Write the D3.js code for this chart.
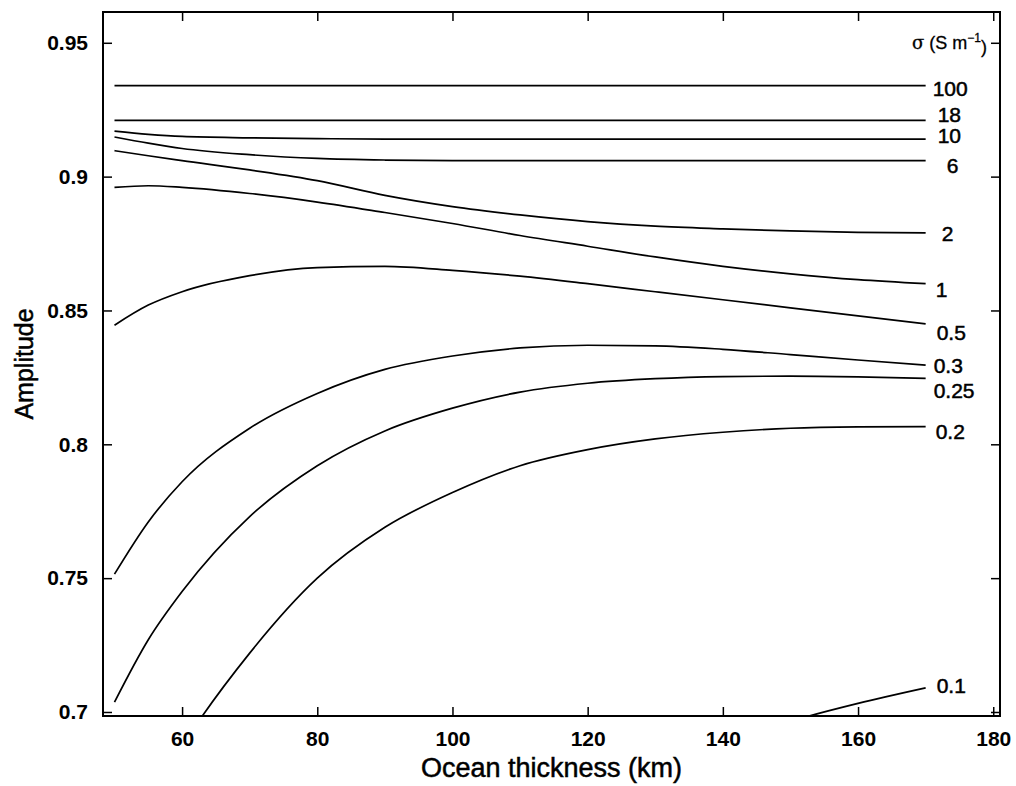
<!DOCTYPE html>
<html>
<head>
<meta charset="utf-8">
<script src="https://cdn.jsdelivr.net/npm/d3@7"></script>
<style>
  html, body { margin: 0; padding: 0; background: #fff; }
  svg { display: block; }
  text { font-family: "Liberation Sans", Arial, Helvetica, sans-serif; fill: #000; }
</style>
</head>
<body>
<svg id="chart" width="1016" height="786"></svg>
<script>
// ---------------- data ----------------
const thickness = [50, 55, 60, 70, 80, 90, 100, 110, 120, 130, 140, 150, 160, 170];
const sigmaLabels = ["100", "18", "10", "6", "2", "1", "0.5", "0.3", "0.25", "0.2", "0.1"];
const amp100  = [0.934, 0.934, 0.934, 0.934, 0.934, 0.934, 0.934, 0.934, 0.934, 0.934, 0.934, 0.934, 0.934, 0.934];
const amp18   = [0.921, 0.921, 0.921, 0.921, 0.921, 0.921, 0.921, 0.921, 0.921, 0.921, 0.921, 0.921, 0.921, 0.921];
const amp10   = [0.917, 0.9158, 0.915, 0.9145, 0.9142, 0.914, 0.914, 0.914, 0.914, 0.914, 0.914, 0.914, 0.914, 0.914];
const amp6    = [0.9148, 0.9125, 0.9105, 0.9082, 0.9068, 0.9062, 0.906, 0.906, 0.906, 0.906, 0.906, 0.906, 0.906, 0.906];
const amp2    = [0.9097, 0.9078, 0.906, 0.9025, 0.8985, 0.893, 0.8888, 0.8857, 0.8832, 0.8815, 0.8805, 0.8797, 0.8792, 0.879];
const amp1    = [0.896, 0.8966, 0.896, 0.8937, 0.8905, 0.8866, 0.8825, 0.878, 0.874, 0.870, 0.8665, 0.8637, 0.8615, 0.860];
const amp05   = [0.8445, 0.852, 0.857, 0.863, 0.866, 0.8665, 0.865, 0.8628, 0.860, 0.857, 0.854, 0.851, 0.848, 0.845];
const amp03   = [0.7515, 0.771, 0.786, 0.806, 0.819, 0.828, 0.833, 0.836, 0.837, 0.8368, 0.8355, 0.8335, 0.8315, 0.8296];
const amp025  = [0.7037, 0.727, 0.745, 0.773, 0.792, 0.805, 0.8135, 0.8195, 0.8228, 0.8245, 0.8253, 0.8255, 0.8252, 0.8246];
const amp02   = [0.640, 0.665, 0.687, 0.722, 0.750, 0.769, 0.782, 0.792, 0.798, 0.802, 0.8045, 0.806, 0.8065, 0.8066];
const amp01   = [0.55, 0.56, 0.57, 0.59, 0.61, 0.63, 0.645, 0.66, 0.672, 0.680, 0.688, 0.6965, 0.7032, 0.709];
const series = [amp100, amp18, amp10, amp6, amp2, amp1, amp05, amp03, amp025, amp02, amp01];

const xTicks = [60, 80, 100, 120, 140, 160, 180];
const yTicks = [0.7, 0.75, 0.8, 0.85, 0.9, 0.95];
const yTickLabels = ["0.7", "0.75", "0.8", "0.85", "0.9", "0.95"];
const xTitle = "Ocean thickness (km)";
const yTitle = "Amplitude";

// layout-only nudges for the curve labels (pixels)
const labelNudge = [3, -6, -3, 5, 1, 6, 9, 1, 12, 5, -2];
const labelIndent = [7, 12, 12, 21, 16, 10, 11, 8, 8, 10, 11];

// ---------------- layout ----------------
const W = 1016, H = 786;
const m = { left: 103, right: 16, top: 12, bottom: 70 };
const svg = d3.select("#chart");
const x = d3.scaleLinear().domain([48.3, 181]).range([m.left, W - m.right]);
const y = d3.scaleLinear().domain([0.6985, 0.9615]).range([H - m.bottom, m.top]);

svg.append("defs").append("clipPath").attr("id", "clip")
  .append("rect").attr("x", m.left).attr("y", m.top)
  .attr("width", W - m.left - m.right).attr("height", H - m.top - m.bottom);

// curves
const line = d3.line()
  .x((d, i) => x(thickness[i]))
  .y(d => y(d))
  .curve(d3.curveMonotoneX);

svg.append("g").attr("clip-path", "url(#clip)")
  .selectAll("path").data(series).join("path")
  .attr("d", d => line(d))
  .attr("fill", "none").attr("stroke", "#000").attr("stroke-width", 1.7);

// curve labels
svg.append("g").selectAll("text").data(series).join("text")
  .attr("x", (d, i) => x(thickness[thickness.length - 1]) + labelIndent[i])
  .attr("y", (d, i) => y(d[d.length - 1]) + labelNudge[i])
  .attr("dy", "0.35em")
  .attr("font-size", 21)
  .attr("stroke", "#000").attr("stroke-width", 0.5)
  .text((d, i) => sigmaLabels[i]);

// sigma header
const hdr = svg.append("text")
  .attr("x", W - m.right - 13).attr("y", y(0.95)).attr("dy", "0.35em")
  .attr("text-anchor", "end").attr("font-size", 18)
  .attr("stroke", "#000").attr("stroke-width", 0.3);
hdr.append("tspan").attr("font-family", "DejaVu Serif, serif").text("\u03C3");
hdr.append("tspan").text(" (S m");
hdr.append("tspan").attr("dy", "-0.6em").attr("font-size", 12).text("\u22121");
hdr.append("tspan").attr("dy", "0.6em").text(")");

// axes (MATLAB style box with inward ticks)
const tickLen = 9;
const bottomAxis = d3.axisBottom(x).tickValues(xTicks).tickSize(-tickLen).tickPadding(tickLen + 6).tickFormat(d3.format("d"));
const topAxis = d3.axisTop(x).tickValues(xTicks).tickSize(-tickLen).tickFormat("");
const leftAxis = d3.axisLeft(y).tickValues(yTicks).tickSize(-tickLen).tickPadding(tickLen + 6).tickFormat((d, i) => yTickLabels[i]);
const rightAxis = d3.axisRight(y).tickValues(yTicks).tickSize(-tickLen).tickFormat("");

function style(g) {
  g.select(".domain").remove();
  g.selectAll(".tick line").attr("stroke", "#000").attr("stroke-width", 1.5);
  g.selectAll(".tick text").attr("font-size", 21).attr("font-weight", "bold")
    .attr("font-family", "Liberation Sans, Arial, sans-serif").attr("fill", "#000");
}
svg.append("g").attr("transform", `translate(0,${H - m.bottom})`).call(bottomAxis).call(style);
svg.append("g").attr("transform", `translate(0,${m.top})`).call(topAxis).call(style);
svg.append("g").attr("transform", `translate(${m.left},0)`).call(leftAxis).call(style);
svg.append("g").attr("transform", `translate(${W - m.right},0)`).call(rightAxis).call(style);

svg.append("rect")
  .attr("x", m.left).attr("y", m.top)
  .attr("width", W - m.left - m.right).attr("height", H - m.top - m.bottom)
  .attr("fill", "none").attr("stroke", "#000").attr("stroke-width", 2);

// titles
svg.append("text")
  .attr("x", (m.left + W - m.right) / 2).attr("y", 777)
  .attr("text-anchor", "middle").attr("font-size", 27)
  .attr("stroke", "#000").attr("stroke-width", 0.5)
  .text(xTitle);
svg.append("text")
  .attr("transform", `translate(33,${(m.top + H - m.bottom) / 2}) rotate(-90)`)
  .attr("text-anchor", "middle").attr("font-size", 25)
  .attr("stroke", "#000").attr("stroke-width", 0.5)
  .text(yTitle);
</script>
</body>
</html>
